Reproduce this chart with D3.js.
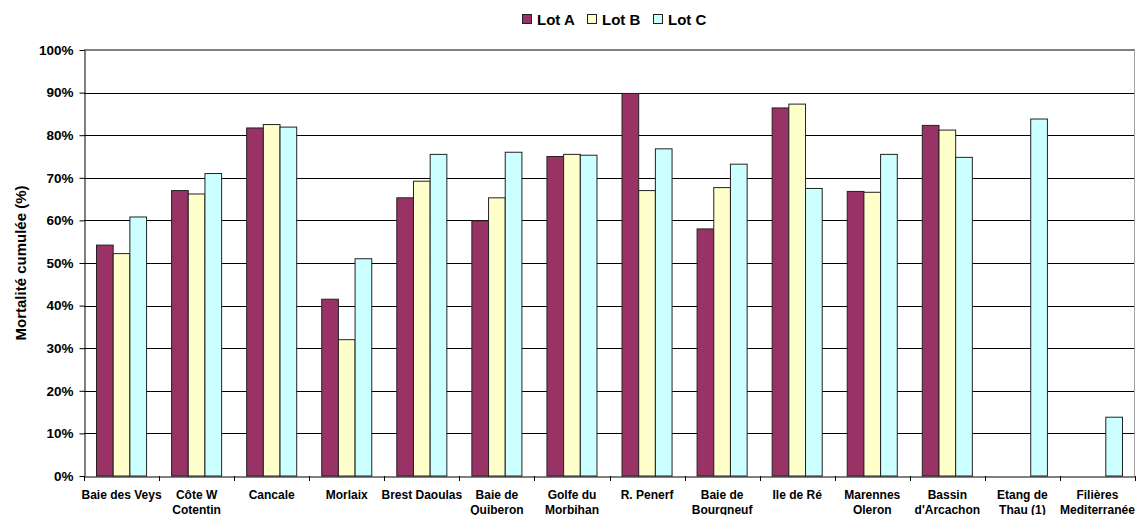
<!DOCTYPE html>
<html>
<head>
<meta charset="utf-8">
<script src="https://cdn.jsdelivr.net/npm/d3@7"></script>
<style>
  body { margin: 0; background: #fff; }
  text { font-family: "Liberation Sans", Arial, sans-serif; font-weight: bold; fill: #000; }
</style>
</head>
<body>
<script>
// donnees
var sites = ["Baie des Veys", "Côte W\nCotentin", "Cancale", "Morlaix", "Brest Daoulas",
  "Baie de\nQuiberon", "Golfe du\nMorbihan", "R. Penerf", "Baie de\nBourgneuf", "Ile de Ré",
  "Marennes\nOleron", "Bassin\nd'Arcachon", "Etang de\nThau (1)", "Filières\nMediterranée"];
var lots = ["Lot A", "Lot B", "Lot C"];
var lotA = [54.2, 67.0, 81.7, 41.5, 65.3, 59.9, 75.0, 89.8, 58.0, 86.4, 66.8, 82.3, null, null];
var lotB = [52.2, 66.2, 82.5, 32.0, 69.2, 65.3, 75.5, 67.0, 67.7, 87.3, 66.6, 81.2, null, null];
var lotC = [60.8, 71.0, 81.9, 51.0, 75.5, 76.0, 75.3, 76.8, 73.2, 67.5, 75.5, 74.8, 83.8, 13.8];
var yTicks = [0, 10, 20, 30, 40, 50, 60, 70, 80, 90, 100];
var couleurs = ["#993366", "#FFFFCC", "#CCFFFF"];

var ancho = 1136, alto = 515;
var gauche = 84, droite = 1135, haut = 50, bas = 476;

var svg = d3.select("body").append("svg")
  .attr("width", ancho)
  .attr("height", alto);

var x0 = d3.scaleBand().domain(sites).range([gauche, droite]).padding(0);
var bw = x0.bandwidth();
// gap width 150% (style Excel)
var x1 = d3.scaleBand().domain(lots).range([bw * 0.75 / 4.5, bw * 3.75 / 4.5]).padding(0);
var y = d3.scaleLinear().domain([0, 100]).range([bas, haut]);

// lignes de grille
svg.append("g").selectAll("line")
  .data(yTicks.filter(function(d){ return d > 0 && d < 100; }))
  .enter().append("line")
  .attr("x1", gauche).attr("x2", droite)
  .attr("y1", function(d){ return Math.round(y(d)) + 0.5; })
  .attr("y2", function(d){ return Math.round(y(d)) + 0.5; })
  .attr("stroke", "#000").attr("stroke-width", 1);

// cadre haut et droit
svg.append("line").attr("x1", gauche).attr("x2", droite).attr("y1", y(100)).attr("y2", y(100))
  .attr("stroke", "#808080").attr("stroke-width", 2);
svg.append("line").attr("x1", droite - 0.5).attr("x2", droite - 0.5).attr("y1", y(100)).attr("y2", bas)
  .attr("stroke", "#a0a0a0").attr("stroke-width", 1);

// barres
var series = [lotA, lotB, lotC];
var groupes = svg.append("g").selectAll("g")
  .data(sites)
  .enter().append("g")
  .attr("transform", function(d){ return "translate(" + x0(d) + ",0)"; });

groupes.selectAll("rect")
  .data(function(d, i){
    return lots.map(function(l, j){ return { lot: l, v: series[j][i], j: j }; })
      .filter(function(e){ return e.v != null; });
  })
  .enter().append("rect")
  .attr("x", function(d){ return x1(d.lot); })
  .attr("y", function(d){ return y(d.v); })
  .attr("width", x1.bandwidth())
  .attr("height", function(d){ return bas - y(d.v); })
  .attr("fill", function(d){ return couleurs[d.j]; })
  .attr("stroke", "#222")
  .attr("stroke-width", 1);

// axe Y
var axeY = svg.append("g")
  .attr("transform", "translate(" + (gauche + 0.5) + ",0)")
  .call(d3.axisLeft(y).tickValues(yTicks).tickFormat(function(d){ return d + "%"; }).tickSize(5).tickSizeOuter(0));
axeY.select(".domain").attr("stroke", "#000");
axeY.selectAll(".tick line").attr("stroke", "#000");
axeY.selectAll(".tick text")
  .attr("x", -11)
  .style("font-size", "13.5px")
  .style("font-family", "'Liberation Sans', Arial, sans-serif");

// axe X
var axeX = svg.append("g")
  .attr("transform", "translate(0," + (bas + 0.5) + ")")
  .call(d3.axisBottom(x0).tickSize(0).tickSizeOuter(0));
axeX.select(".domain").attr("stroke", "#000");
axeX.selectAll(".tick text").remove();
axeX.selectAll(".tick line").remove();

// graduations aux limites des categories
svg.append("g").selectAll("line")
  .data(sites.concat(["fin"]))
  .enter().append("line")
  .attr("x1", function(d, i){ return Math.round(gauche + i * bw) + 0.5; })
  .attr("x2", function(d, i){ return Math.round(gauche + i * bw) + 0.5; })
  .attr("y1", bas).attr("y2", bas + 5)
  .attr("stroke", "#000");

// etiquettes des categories
svg.append("g").selectAll("text")
  .data(sites)
  .enter().append("text")
  .attr("text-anchor", "middle")
  .attr("transform", function(d){ return "translate(" + (x0(d) + bw / 2) + ",499)"; })
  .style("font-size", "12px")
  .selectAll("tspan")
  .data(function(d){ return d.split("\n"); })
  .enter().append("tspan")
  .attr("x", 0)
  .attr("dy", function(d, i){ return i == 0 ? 0 : 15; })
  .text(function(d){ return d; });

// titre axe Y
svg.append("text")
  .attr("transform", "translate(26,263) rotate(-90)")
  .attr("text-anchor", "middle")
  .style("font-size", "15px")
  .text("Mortalité cumulée (%)");

// legende
var legende = svg.append("g").selectAll("g")
  .data(lots)
  .enter().append("g")
  .attr("transform", function(d, i){ return "translate(" + [522, 587, 653][i] + ",14)"; });
legende.append("rect")
  .attr("x", 0.5).attr("y", 0.5)
  .attr("width", 9).attr("height", 9)
  .attr("fill", function(d, i){ return couleurs[i]; })
  .attr("stroke", "#222");
legende.append("text")
  .attr("x", 15).attr("y", 10.5)
  .style("font-size", "15px")
  .text(function(d){ return d; });
</script>
</body>
</html>
